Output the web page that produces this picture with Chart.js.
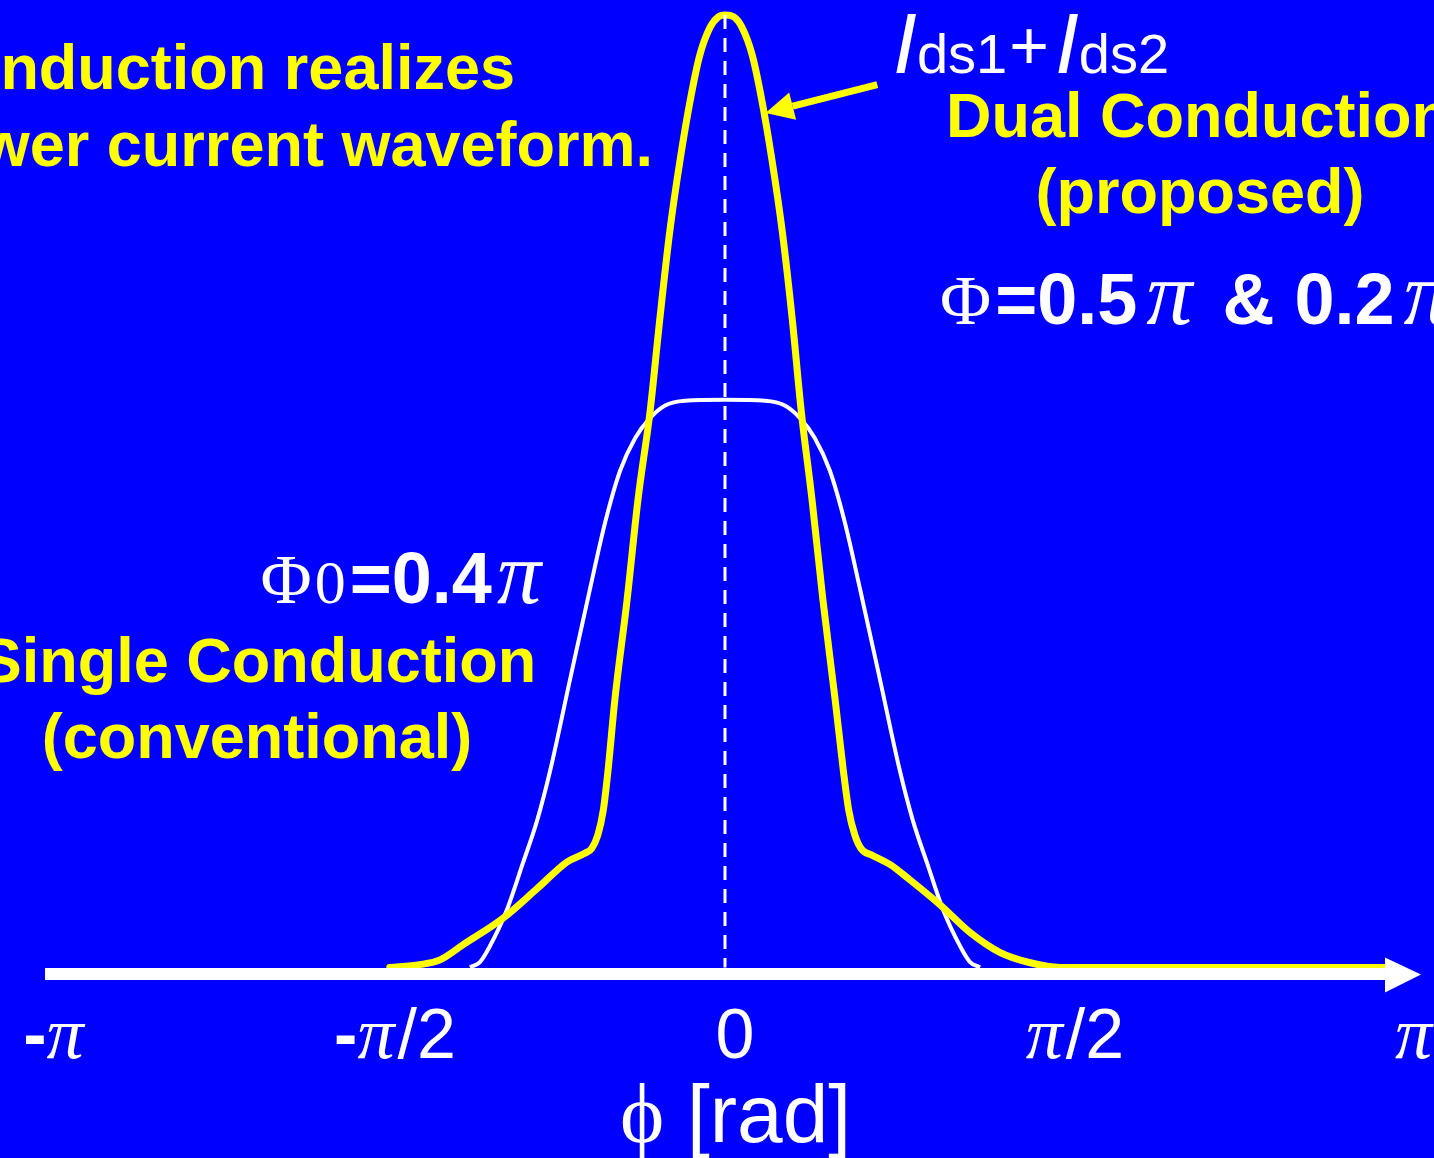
<!DOCTYPE html>
<html>
<head>
<meta charset="utf-8">
<script src="https://cdn.jsdelivr.net/npm/chart.js@4.4.1/dist/chart.umd.min.js"></script>
<style>
  html, body { margin: 0; padding: 0; background: #0000ff; overflow: hidden; }
  #wrap { width: 1434px; height: 1158px; position: relative; }
</style>
</head>
<body>
<div id="wrap"><canvas id="chart"></canvas></div>
<script>
// phase in units of pi, current normalised to the dual-conduction peak
const yellowPhi = [-0.493, -0.449, -0.419, -0.385, -0.326, -0.276, -0.232, -0.206, -0.196, -0.187, -0.179, -0.172, -0.162, -0.144, -0.128, -0.110, -0.096, -0.081, -0.066, -0.051, -0.037, -0.022, -0.010, 0.0, 0.013, 0.025, 0.040, 0.054, 0.069, 0.084, 0.099, 0.112, 0.128, 0.144, 0.162, 0.174, 0.182, 0.191, 0.201, 0.216, 0.243, 0.272, 0.316, 0.360, 0.404, 0.449, 0.493, 0.985];
const yellowI   = [0, 0.003, 0.008, 0.024, 0.052, 0.083, 0.111, 0.120, 0.125, 0.139, 0.165, 0.207, 0.281, 0.386, 0.491, 0.585, 0.680, 0.774, 0.848, 0.911, 0.958, 0.987, 0.998, 1.0, 0.998, 0.987, 0.958, 0.911, 0.848, 0.774, 0.680, 0.585, 0.491, 0.386, 0.281, 0.207, 0.165, 0.139, 0.124, 0.118, 0.108, 0.092, 0.066, 0.037, 0.016, 0.005, 0, 0];

const whitePhi = [-0.375, -0.360, -0.346, -0.321, -0.297, -0.276, -0.257, -0.228, -0.199, -0.176, -0.154, -0.132, -0.110, -0.088, -0.059, 0, 0.059, 0.088, 0.110, 0.132, 0.154, 0.176, 0.199, 0.228, 0.257, 0.276, 0.297, 0.321, 0.346, 0.360, 0.375];
const whiteI   = [0, 0.006, 0.022, 0.060, 0.110, 0.155, 0.207, 0.302, 0.396, 0.468, 0.522, 0.556, 0.577, 0.590, 0.595, 0.596, 0.595, 0.590, 0.577, 0.556, 0.522, 0.468, 0.396, 0.302, 0.207, 0.155, 0.110, 0.060, 0.022, 0.006, 0];

const xTicks = [-1, -0.5, 0, 0.5, 1];
const xTickLabels = ['-π', '-π/2', '0', 'π/2', 'π'];

const SANS = '"Liberation Sans", Arial, sans-serif';
const SERIF = '"Liberation Serif", "DejaVu Serif", serif';
const YELLOW = '#ffff00';
const WHITE = '#ffffff';
const BLUE = '#0000ff';

const toPoints = (xs, ys) => xs.map((x, i) => ({ x: x, y: ys[i] }));

// draws a row of text pieces with their own fonts
function drawRuns(ctx, runs, x, y, align) {
    let total = 0;
    runs.forEach(r => {
        ctx.font = r.font;
        r.w = ctx.measureText(r.text).width + (r.pre || 0) + (r.gap || 0);
        total += r.w;
    });
    let cx = align === 'right' ? x - total : align === 'center' ? x - total / 2 : x;
    ctx.textAlign = 'left';
    ctx.textBaseline = 'alphabetic';
    runs.forEach(r => {
        ctx.font = r.font;
        ctx.fillStyle = r.color;
        ctx.fillText(r.text, cx + (r.pre || 0), y + (r.dy || 0));
        cx += r.w;
    });
}

const background = {
    id: 'background',
    beforeDraw(chart) {
        const ctx = chart.ctx;
        ctx.save();
        ctx.fillStyle = BLUE;
        ctx.fillRect(0, 0, chart.width, chart.height);
        ctx.restore();
    }
};

const overlay = {
    id: 'overlay',
    afterDatasetsDraw(chart) {
        const ctx = chart.ctx;
        const xs = chart.scales.x, ys = chart.scales.y;
        const y0 = ys.getPixelForValue(0);
        ctx.save();

        // dashed centre line
        ctx.strokeStyle = WHITE;
        ctx.lineWidth = 3;
        ctx.setLineDash([14, 9]);
        ctx.beginPath();
        ctx.moveTo(xs.getPixelForValue(0), ys.getPixelForValue(1.0));
        ctx.lineTo(xs.getPixelForValue(0), y0);
        ctx.stroke();
        ctx.setLineDash([]);

        // x axis arrow
        const ax0 = xs.getPixelForValue(-1);
        const axTip = xs.getPixelForValue(1.0235);
        const axHead = axTip - 36;
        ctx.fillStyle = WHITE;
        ctx.fillRect(ax0, y0 + 0.5, axHead - ax0, 12);
        ctx.beginPath();
        ctx.moveTo(axHead, y0 - 10);
        ctx.lineTo(axTip, y0 + 7);
        ctx.lineTo(axHead, y0 + 25);
        ctx.closePath();
        ctx.fill();

        // pointer arrow to the yellow peak
        const tipX = xs.getPixelForValue(0.0596), tipY = ys.getPixelForValue(0.897);
        const tailX = xs.getPixelForValue(0.224), tailY = ys.getPixelForValue(0.927);
        const ang = Math.atan2(tipY - tailY, tipX - tailX);
        const headLen = 28, headW = 14;
        const bx = tipX - headLen * Math.cos(ang), by = tipY - headLen * Math.sin(ang);
        ctx.strokeStyle = YELLOW;
        ctx.lineWidth = 7;
        ctx.beginPath();
        ctx.moveTo(tailX, tailY);
        ctx.lineTo(bx, by);
        ctx.stroke();
        ctx.fillStyle = YELLOW;
        ctx.beginPath();
        ctx.moveTo(tipX, tipY);
        ctx.lineTo(bx + headW * Math.sin(ang), by - headW * Math.cos(ang));
        ctx.lineTo(bx - headW * Math.sin(ang), by + headW * Math.cos(ang));
        ctx.closePath();
        ctx.fill();

        // tick labels
        xTicks.forEach((v, i) => {
            const runs = xTickLabels[i].split('').map(ch => ({
                text: ch,
                color: WHITE,
                font: ch === 'π' ? 'italic 74px ' + SERIF : ch === '-' ? 'bold 70px ' + SANS : '70px ' + SANS,
                gap: ch === 'π' ? 3 : 0
            }));
            drawRuns(ctx, runs, xs.getPixelForValue(v) + 10, 1058, 'center');
        });

        // axis title
        drawRuns(ctx, [
            { text: 'ϕ', font: '84px ' + SERIF, color: WHITE },
            { text: ' [rad]', font: '82px ' + SANS, color: WHITE }
        ], 620, 1142, 'left');

        // annotations
        const yb = 'bold 63px ' + SANS;
        drawRuns(ctx, [{ text: 'nduction realizes', font: yb, color: YELLOW }], 515, 89, 'right');
        drawRuns(ctx, [{ text: 'wer current waveform.', font: yb, color: YELLOW }], 653, 166, 'right');

        drawRuns(ctx, [
            { text: 'I', font: 'italic 86px ' + SANS, color: WHITE },
            { text: 'ds1', font: '56px ' + SANS, color: WHITE, gap: 2 },
            { text: '+', font: '68px ' + SANS, color: WHITE, dy: -4, gap: 6 },
            { text: 'I', font: 'italic 86px ' + SANS, color: WHITE },
            { text: 'ds2', font: '56px ' + SANS, color: WHITE }
        ], 893, 73, 'left');

        drawRuns(ctx, [{ text: 'Dual Conduction', font: yb, color: YELLOW }], 1198, 137, 'center');
        drawRuns(ctx, [{ text: '(proposed)', font: yb, color: YELLOW }], 1200, 213, 'center');

        drawRuns(ctx, [
            { text: 'Φ', font: '70px ' + SERIF, color: WHITE },
            { text: '=0.5', font: 'bold 72px ' + SANS, color: WHITE, pre: 4 },
            { text: 'π', font: 'italic 92px ' + SERIF, color: WHITE, pre: 9, gap: 10 },
            { text: ' & 0.2', font: 'bold 72px ' + SANS, color: WHITE },
            { text: 'π', font: 'italic 92px ' + SERIF, color: WHITE, pre: 9 }
        ], 940, 324, 'left');

        drawRuns(ctx, [
            { text: 'Φ', font: '70px ' + SERIF, color: WHITE },
            { text: '0', font: '62px ' + SERIF, color: WHITE, pre: 3 },
            { text: '=0.4', font: 'bold 72px ' + SANS, color: WHITE, pre: 4 },
            { text: 'π', font: 'italic 88px ' + SERIF, color: WHITE, pre: 5 }
        ], 541, 603, 'right');

        drawRuns(ctx, [{ text: 'Single Conduction', font: yb, color: YELLOW }], 258, 682, 'center');
        drawRuns(ctx, [{ text: '(conventional)', font: yb, color: YELLOW }], 257, 758, 'center');

        ctx.restore();
    }
};

new Chart(document.getElementById('chart'), {
    type: 'line',
    data: {
        datasets: [
            {
                label: 'Dual Conduction',
                data: toPoints(yellowPhi, yellowI),
                borderColor: YELLOW,
                borderWidth: 7,
                pointRadius: 0,
                cubicInterpolationMode: 'monotone',
                borderJoinStyle: 'round',
                borderCapStyle: 'round',
                fill: false
            },
            {
                label: 'Single Conduction',
                data: toPoints(whitePhi, whiteI),
                borderColor: WHITE,
                borderWidth: 4,
                pointRadius: 0,
                cubicInterpolationMode: 'monotone',
                borderJoinStyle: 'round',
                fill: false
            }
        ]
    },
    options: {
        responsive: true,
        maintainAspectRatio: false,
        animation: false,
        layout: { padding: 0 },
        scales: {
            x: { type: 'linear', display: false, min: -725 / 680, max: (1434 - 725) / 680 },
            y: { type: 'linear', display: false, min: -0.2, max: 1.01575 }
        },
        plugins: {
            legend: { display: false },
            tooltip: { enabled: false }
        }
    },
    plugins: [background, overlay]
});
</script>
</body>
</html>
